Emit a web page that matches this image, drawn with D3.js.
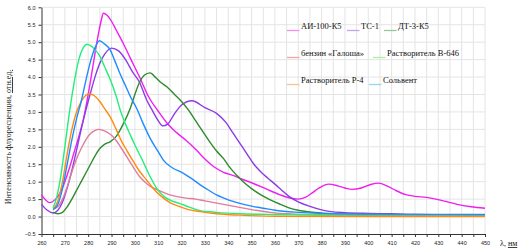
<!DOCTYPE html>
<html>
<head>
<meta charset="utf-8">
<script src="https://cdn.jsdelivr.net/npm/d3@7"></script>
<style>
  body { margin: 0; background: #fff; }
  svg { display: block; }
</style>
</head>
<body>
<div id="chart"></div>
<script>
// wavelength (nm) / intensity pairs
const ai100X = [260, 263.5, 266, 268, 270, 272, 274, 276, 278, 280, 282, 284, 285.5, 286.5, 288, 290, 292, 295, 298, 302, 306, 310, 314, 318, 322, 326, 330, 334, 338, 342, 346, 350, 354, 358, 362, 366, 370, 373, 376, 379, 383, 387, 390, 393, 397, 401, 404.5, 408, 412, 416, 420, 425, 429, 434, 438, 444, 450]
const ai100Y = [0.62, 0.40, 0.50, 0.68, 1.0, 1.4, 1.85, 2.3, 2.8, 3.5, 4.3, 5.1, 5.6, 5.83, 5.78, 5.6, 5.35, 4.97, 4.55, 4.0, 3.42, 3.02, 2.66, 2.4, 2.18, 1.93, 1.65, 1.42, 1.27, 1.18, 1.07, 0.97, 0.86, 0.74, 0.63, 0.54, 0.50, 0.55, 0.68, 0.82, 0.93, 0.88, 0.82, 0.78, 0.82, 0.92, 0.96, 0.88, 0.74, 0.63, 0.58, 0.55, 0.50, 0.42, 0.35, 0.28, 0.24]

const tc1X = [260, 262.5, 265, 267, 269, 271, 273, 275, 277, 279, 281, 283, 285, 287, 290, 293, 296, 299, 302, 305, 307, 310, 312, 314, 317, 320, 324.5, 330, 335, 339, 342, 345, 348, 351, 354, 357, 360, 363, 366, 370, 375, 380, 384, 390, 400, 410, 420, 435, 450]
const tc1Y = [0.35, 0.18, 0.10, 0.18, 0.42, 0.82, 1.32, 1.9, 2.5, 3.05, 3.55, 4.02, 4.4, 4.65, 4.83, 4.75, 4.5, 4.15, 3.85, 3.35, 3.1, 2.75, 2.6, 2.65, 2.95, 3.2, 3.32, 3.12, 2.96, 2.7, 2.4, 2.1, 1.8, 1.5, 1.28, 1.1, 0.93, 0.75, 0.58, 0.42, 0.29, 0.19, 0.14, 0.11, 0.09, 0.08, 0.06, 0.05, 0.05]

const dt3X = [265, 267, 269, 271, 273, 275, 277, 279, 281, 283, 285, 287, 289.5, 292, 295, 298, 300, 302, 304, 306.5, 309, 311, 313.7, 317, 320, 323, 326, 329, 332, 335, 338, 341, 344, 347, 350, 354, 358, 362, 366, 370, 375, 380, 390, 400, 420, 450]
const dt3Y = [0.12, 0.08, 0.12, 0.28, 0.5, 0.75, 1.0, 1.25, 1.5, 1.75, 1.95, 2.07, 2.15, 2.3, 2.65, 3.1, 3.5, 3.85, 4.05, 4.12, 3.98, 3.85, 3.72, 3.5, 3.3, 3.05, 2.75, 2.45, 2.15, 1.88, 1.66, 1.38, 1.16, 0.96, 0.8, 0.62, 0.48, 0.36, 0.25, 0.18, 0.13, 0.1, 0.07, 0.06, 0.05, 0.05]

const galoshaX = [265, 267, 269, 271, 273, 275, 277, 279, 281, 283, 284.5, 286, 288, 290, 292, 294, 296.5, 299, 302, 305, 307, 309, 312, 315, 318, 322, 326, 330, 334, 338, 342, 346, 350, 354, 358, 365, 375, 390, 410, 430, 450]
const galoshaY = [0.22, 0.28, 0.5, 0.85, 1.28, 1.65, 1.95, 2.2, 2.38, 2.47, 2.5, 2.48, 2.42, 2.33, 2.18, 1.98, 1.72, 1.45, 1.15, 0.95, 0.85, 0.79, 0.7, 0.62, 0.57, 0.53, 0.5, 0.45, 0.4, 0.35, 0.3, 0.25, 0.2, 0.16, 0.12, 0.08, 0.05, 0.04, 0.03, 0.03, 0.03]

const b646X = [265, 266.5, 268, 270, 272, 274, 276, 278, 279.5, 281, 283, 285, 287, 289.5, 292, 294, 296, 298, 300, 303, 306.5, 310, 313, 316, 319, 323, 328, 335, 345, 360, 380, 410, 450]
const b646Y = [0.25, 0.55, 1.05, 2.0, 3.0, 3.85, 4.5, 4.85, 4.94, 4.9, 4.78, 4.6, 4.3, 3.92, 3.45, 3.0, 2.65, 2.35, 2.05, 1.65, 1.15, 0.75, 0.55, 0.44, 0.38, 0.28, 0.17, 0.12, 0.08, 0.06, 0.05, 0.05, 0.05]

const p4X = [265, 267, 269, 271, 273, 275, 277, 279, 280.5, 282.5, 285, 287, 289.5, 292, 294, 296.5, 299, 302, 305, 308, 311, 315, 319, 323, 328, 335, 345, 360, 400, 450]
const p4Y = [0.2, 0.45, 1.0, 1.8, 2.5, 3.0, 3.3, 3.48, 3.52, 3.47, 3.3, 3.1, 2.85, 2.5, 2.2, 1.9, 1.62, 1.3, 1.05, 0.8, 0.6, 0.4, 0.29, 0.2, 0.14, 0.08, 0.04, 0.01, 0.0, 0.0]

const solventX = [265, 267, 269, 271, 273, 275, 277, 279, 281, 283, 284.8, 287, 289.4, 291.5, 293.6, 296, 298, 300.8, 303, 306.5, 310, 312.2, 316, 320.8, 324, 328, 332, 335, 340, 345, 350, 355, 360, 370, 380, 400, 450]
const solventY = [0.2, 0.35, 0.8, 1.5, 2.2, 2.8, 3.3, 3.9, 4.45, 4.85, 5.04, 4.95, 4.78, 4.45, 4.1, 3.75, 3.45, 3.1, 2.75, 2.25, 1.86, 1.62, 1.4, 1.24, 1.1, 0.91, 0.74, 0.62, 0.48, 0.38, 0.3, 0.24, 0.18, 0.12, 0.09, 0.07, 0.06]

const seriesNames = ["АИ-100-К5", "ТС-1", "ДТ-3-К5", "бензин «Галоша»", "Растворитель В-646", "Растворитель Р-4", "Сольвент"]
const seriesX = [ai100X, tc1X, dt3X, galoshaX, b646X, p4X, solventX]
const seriesY = [ai100Y, tc1Y, dt3Y, galoshaY, b646Y, p4Y, solventY]
const lineColors = ["#f01ef0", "#8c3ce6", "#2e8b2e", "#e07c9c", "#22ee7a", "#ff8a10", "#1e8cff"]
const legendColors = ["#f48cf4", "#c4a4e8", "#94c894", "#f4a4a4", "#a4f0a4", "#f4c494", "#94d8f0"]

const xTicks = d3.range(260, 451, 5)
const yTicks = d3.range(-0.5, 6.01, 0.5)

const width = 521, height = 251

const svg = d3.select("#chart")
  .append("svg")
    .attr("width", width)
    .attr("height", height)

const x = d3.scaleLinear().domain([260, 450]).range([41.5, 485])
const y = d3.scaleLinear().domain([-0.5, 6]).range([234, 7.3])

// grid
svg.append("g")
  .selectAll("line")
  .data(xTicks.slice(1))
  .join("line")
    .attr("x1", d => x(d)).attr("x2", d => x(d))
    .attr("y1", y(6)).attr("y2", y(-0.5))
    .attr("stroke", "#e4e4e4")
svg.append("g")
  .selectAll("line")
  .data(yTicks.slice(1))
  .join("line")
    .attr("x1", x(260)).attr("x2", x(450))
    .attr("y1", d => y(d)).attr("y2", d => y(d))
    .attr("stroke", "#e4e4e4")

// axes
const xAxis = svg.append("g")
  .attr("transform", `translate(0,${y(-0.5)})`)
  .call(d3.axisBottom(x).tickValues(xTicks).tickSize(3).tickSizeOuter(0)
    .tickFormat(d => d % 10 === 0 ? d : ""))
const yAxis = svg.append("g")
  .attr("transform", `translate(${x(260)},0)`)
  .call(d3.axisLeft(y).tickValues(yTicks).tickSize(3).tickSizeOuter(0)
    .tickFormat(d3.format(".1f")))

for (const ax of [xAxis, yAxis]) {
  ax.select(".domain").attr("stroke", "#333")
  ax.selectAll(".tick line").attr("stroke", "#333")
  ax.selectAll("text")
    .attr("fill", "#222")
    .style("font", "5.5px 'Liberation Sans', Arial, sans-serif")
}
xAxis.selectAll("text").attr("dy", "0.9em")

// curves
const line = d3.line()
  .x(d => x(d[0]))
  .y(d => y(d[1]))
  .curve(d3.curveMonotoneX)

svg.append("g")
  .selectAll("path")
  .data(seriesNames.map((n, i) => seriesX[i].map((v, j) => [v, seriesY[i][j]])))
  .join("path")
    .attr("d", line)
    .attr("fill", "none")
    .attr("stroke", (d, i) => lineColors[i])
    .attr("stroke-width", 1.4)

// legend
const legendPos = [[287, 29], [347, 29], [384, 29], [287, 56], [373, 56], [287, 83], [369, 83]]
const legend = svg.append("g")
  .style("font", "8.5px 'Liberation Serif', 'Times New Roman', serif")
seriesNames.forEach((n, i) => {
  const [lx, ly] = legendPos[i]
  legend.append("line")
    .attr("x1", lx).attr("x2", lx + 12.5)
    .attr("y1", ly + 1.5).attr("y2", ly + 1.5)
    .attr("stroke", legendColors[i])
    .attr("stroke-width", 1.3)
  legend.append("text")
    .attr("x", lx + 14).attr("y", ly)
    .attr("fill", "#111")
    .text(n)
})

// axis titles
const yTitle = svg.append("text")
  .attr("transform", "translate(11,137) rotate(-90)")
  .attr("text-anchor", "middle")
  .style("font", "8px 'Liberation Serif', 'Times New Roman', serif")
  .attr("fill", "#111")
yTitle.append("tspan").text("Интенсивность флуоресценции, ")
yTitle.append("tspan").text("отн.ед.")
  .style("text-decoration", "underline wavy red")

const xTitle = svg.append("text")
  .attr("x", 500).attr("y", 246)
  .style("font", "8px 'Liberation Serif', 'Times New Roman', serif")
  .attr("fill", "#111")
xTitle.append("tspan").text("λ, ")
xTitle.append("tspan").text("нм")
  .style("text-decoration", "underline wavy red")
</script>
</body>
</html>
